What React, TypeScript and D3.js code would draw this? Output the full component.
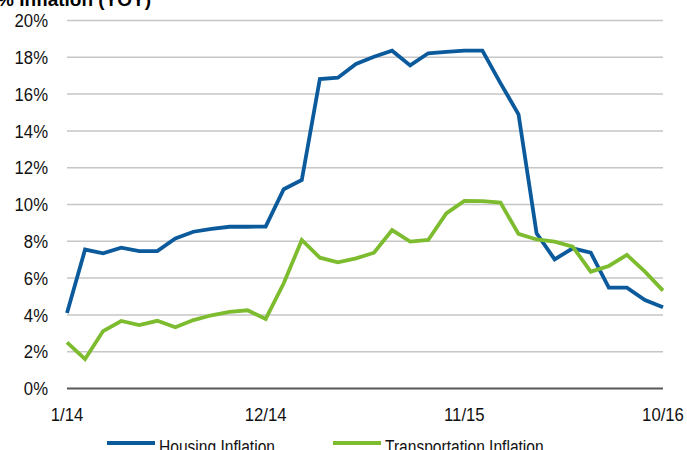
import React from "react";
import * as d3 from "d3";

const months: number[] = d3.range(34);
const xTickIndex = [0, 11, 22, 33];
const xTickLabels = ["1/14", "12/14", "11/15", "10/16"];
const yTicks = [0, 2, 4, 6, 8, 10, 12, 14, 16, 18, 20];

const housing = [
  4.1, 7.55, 7.35, 7.65, 7.47, 7.47, 8.16, 8.52, 8.67, 8.79, 8.79, 8.8,
  10.83, 11.33, 16.82, 16.89, 17.64, 18.03, 18.36, 17.56, 18.22, 18.29, 18.36, 18.36,
  16.6, 14.9, 8.43, 7.02, 7.62, 7.38, 5.48, 5.48, 4.81, 4.41,
];
const transportation = [
  2.51, 1.6, 3.12, 3.67, 3.45, 3.68, 3.33, 3.72, 3.98, 4.17, 4.25, 3.78,
  5.72, 8.07, 7.11, 6.86, 7.07, 7.38, 8.61, 7.98, 8.07, 9.52, 10.2, 10.18,
  10.1, 8.4, 8.1, 7.98, 7.71, 6.35, 6.66, 7.26, 6.35, 5.32,
];

const seriesNames = ["Housing Inflation", "Transportation Inflation"];
const colors = ["#0b5a9c", "#7dbb2f"];
const font = "'Liberation Sans', Arial, sans-serif";

function NText(props: {
  x: number;
  y: number;
  anchor?: "start" | "middle" | "end";
  size?: number;
  sx?: number;
  dy?: string;
  children: React.ReactNode;
}) {
  const { x, y, anchor = "start", size = 19, sx = 0.84, dy, children } = props;
  return (
    <g transform={`translate(${x},${y}) scale(${sx},1)`}>
      <text x={0} y={0} dy={dy} textAnchor={anchor} fontSize={size} fill="#111">
        {children}
      </text>
    </g>
  );
}

export default function App() {
  const W = 687, H = 450;
  const x = d3.scaleLinear().domain([0, 33]).range([67, 663]);
  const y = d3.scaleLinear().domain([0, 20]).range([388.5, 20.5]);
  const line = d3
    .line<number>()
    .x((_, i) => x(months[i]))
    .y((d) => y(d));
  const data = [housing, transportation];
  return (
    <svg
      width={W}
      height={H}
      style={{ position: "absolute", left: 0, top: 0, display: "block" }}
      fontFamily={font}
    >
      <rect width={W} height={H} fill="#fff" />
      <text x={-3} y={6} fontSize={19} fontWeight="bold" fill="#000">
        % Inflation (YOY)
      </text>
      {yTicks.map((t) => (
        <g key={t}>
          {t !== 0 && (
            <line x1={67} x2={663} y1={y(t)} y2={y(t)} stroke="#c6c6c6" strokeWidth={1.5} />
          )}
          <NText x={48} y={y(t)} dy="0.35em" anchor="end" sx={0.88}>
            {t}%
          </NText>
        </g>
      ))}
      {data.map((d, k) => (
        <path
          key={k}
          d={line(d) || ""}
          fill="none"
          stroke={colors[k]}
          strokeWidth={3.8}
          strokeLinejoin="miter"
        />
      ))}
      <line x1={67} x2={663} y1={y(0)} y2={y(0)} stroke="#595959" strokeWidth={2} />
      {xTickIndex.map((m, i) => (
        <NText key={m} x={x(m)} y={421} anchor="middle" sx={0.88}>
          {xTickLabels[i]}
        </NText>
      ))}
      {seriesNames.map((n, i) => {
        const lx = i === 0 ? 107 : 333;
        return (
          <g key={n}>
            <line x1={lx} x2={lx + 48} y1={443} y2={443} stroke={colors[i]} strokeWidth={4} />
            <NText x={lx + 52} y={453} sx={0.82}>
              {n}
            </NText>
          </g>
        );
      })}
    </svg>
  );
}
